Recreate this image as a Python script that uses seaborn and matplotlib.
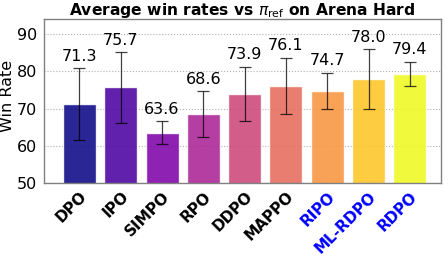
import numpy as np
import pandas as pd
import matplotlib
matplotlib.use("Agg")
import matplotlib.pyplot as plt
import seaborn as sns

methods = ["DPO", "IPO", "SIMPO", "RPO", "DDPO", "MAPPO", "RIPO", "ML-RDPO", "RDPO"]
win_rate = [71.3, 75.7, 63.6, 68.6, 73.9, 76.1, 74.7, 78.0, 79.4]
err = [9.6, 9.5, 3.0, 6.1, 7.3, 7.6, 4.9, 8.0, 3.2]
ours = ["RIPO", "ML-RDPO", "RDPO"]

df = pd.DataFrame({"method": methods, "win": win_rate, "err": err})
colors = plt.cm.plasma(np.linspace(0, 1, len(methods)))

sns.set_style("white", {"text.color": "black", "axes.labelcolor": "black",
                        "xtick.color": "black", "ytick.color": "black"})
fig, ax = plt.subplots(figsize=(4.48, 2.6), dpi=100)
ax.yaxis.grid(True, linestyle=":", color="#b0b0b0", linewidth=0.8)
ax.set_axisbelow(True)

sns.barplot(data=df, x="method", y="win", hue="method", palette=list(colors),
            saturation=1, legend=False, alpha=0.88, edgecolor="white",
            linewidth=1.0, width=0.8, ax=ax)
ax.errorbar(np.arange(len(methods)), df["win"], yerr=df["err"], fmt="none",
            ecolor="black", elinewidth=0.9, capsize=4, capthick=0.9, alpha=0.75)

for i, (v, e) in enumerate(zip(win_rate, err)):
    ax.text(i, v + e + 1.2, f"{v:.1f}", ha="center", va="bottom", fontsize=11.5)

ax.set_ylim(50, 94)
ax.set_xlim(-0.85, 8.75)
ax.set_yticks([50, 60, 70, 80, 90])
ax.tick_params(axis="y", labelsize=11.5, length=3, pad=2, color="gray")
ax.tick_params(axis="x", length=3, pad=1, color="gray")
ax.set_xlabel("")
ax.set_ylabel("Win Rate", fontsize=11.5, labelpad=2)
ax.yaxis.set_label_coords(-0.075, 0.53)
ax.set_title(r"Average win rates vs $\pi_{\rm ref}$ on Arena Hard", fontsize=11.2,
             fontweight="bold", pad=3)
ax.set_xticks(range(len(methods)))
ax.set_xticklabels(methods, rotation=45, ha="right", rotation_mode="anchor",
                   fontsize=11, fontweight="bold")
for lab in ax.get_xticklabels():
    if lab.get_text() in ours:
        lab.set_color("blue")
for s in ax.spines.values():
    s.set_color("gray")
    s.set_linewidth(1.0)

fig.subplots_adjust(left=0.099, right=0.984, top=0.926, bottom=0.295)
fig.savefig("out.png", dpi=100)
